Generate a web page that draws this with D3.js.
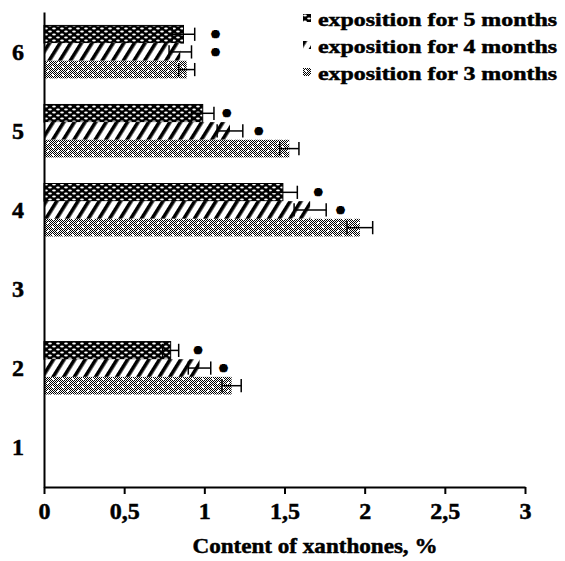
<!DOCTYPE html>
<html lang="en">
<head>
<meta charset="UTF-8">
<script src="https://cdnjs.cloudflare.com/ajax/libs/d3/7.8.5/d3.min.js"></script>
<style>
  body { margin: 0; background: #fff; }
  text { font-family: "Liberation Serif", "Times New Roman", serif; font-weight: bold; fill: #000; stroke: #000; stroke-width: 0.5px; }
</style>
</head>
<body>
<script>
// categories along the y axis (bottom to top)
var categories = ["1", "2", "3", "4", "5", "6"];
var seriesNames = ["exposition for 5 months", "exposition for 4 months", "exposition for 3 months"];

// bar values per category (null = no bar)
var values5 = [null, 0.79, null, 1.49, 0.99, 0.87];
var values4 = [null, 0.97, null, 1.66, 1.16, 0.85];
var values3 = [null, 1.17, null, 1.97, 1.53, 0.89];

// error bars
var err5 = [null, 0.05, null, 0.09, 0.07, 0.07];
var err4 = [null, 0.07, null, 0.10, 0.08, 0.07];
var err3 = [null, 0.06, null, 0.08, 0.06, 0.05];

// where the significance marks sit (x value)
var star5 = [null, 0.96, null, 1.71, 1.14, 1.07];
var star4 = [null, 1.12, null, 1.85, 1.34, 1.07];

var xTicks = [0, 0.5, 1, 1.5, 2, 2.5, 3];
var xTitle = "Content of xanthones, %";

var width = 565, height = 561;
var mLeft = 44, mRight = 525, mTop = 12, mBottom = 487;

var svg = d3.select("body").append("svg")
    .attr("width", width)
    .attr("height", height);

var defs = svg.append("defs");

// 5 months: black with white little ovals
var p5 = defs.append("pattern").attr("id", "pat5")
    .attr("patternUnits", "userSpaceOnUse").attr("width", 8).attr("height", 6);
p5.append("rect").attr("width", 8).attr("height", 6).attr("fill", "#000");
p5.append("ellipse").attr("cx", 2).attr("cy", 1.5).attr("rx", 1.9).attr("ry", 1.1).attr("fill", "#fff");
p5.append("ellipse").attr("cx", 6).attr("cy", 4.5).attr("rx", 1.9).attr("ry", 1.1).attr("fill", "#fff");

// 4 months: diagonal stripes
var p4 = defs.append("pattern").attr("id", "pat4")
    .attr("patternUnits", "userSpaceOnUse").attr("width", 9).attr("height", 9)
    .attr("patternTransform", "rotate(32)");
p4.append("rect").attr("width", 9).attr("height", 9).attr("fill", "#fff");
p4.append("rect").attr("width", 3.6).attr("height", 9).attr("fill", "#000");

// 3 months: dithered grey with white dots
var p3 = defs.append("pattern").attr("id", "pat3")
    .attr("patternUnits", "userSpaceOnUse").attr("width", 10).attr("height", 8);
p3.append("rect").attr("width", 10).attr("height", 8).attr("fill", "#fff");
for (var i = 0; i < 10; i++) {
    for (var j = 0; j < 8; j++) {
        if ((i + j) % 2 == 0) {
            p3.append("rect").attr("x", i).attr("y", j).attr("width", 1).attr("height", 1)
                .attr("fill", "#000").attr("shape-rendering", "crispEdges");
        }
    }
}
p3.append("rect").attr("x", 2).attr("y", 2).attr("width", 2).attr("height", 2).attr("fill", "#fff");
p3.append("rect").attr("x", 7).attr("y", 6).attr("width", 2).attr("height", 2).attr("fill", "#fff");

var fills = ["url(#pat5)", "url(#pat4)", "url(#pat3)"];
var valueSets = [values5, values4, values3];
var errSets = [err5, err4, err3];
var starSets = [star5, star4, null];

var x = d3.scaleLinear().domain([0, 3]).range([mLeft, mRight]);

var y = d3.scaleBand()
    .domain(categories)
    .range([mBottom, mTop])
    .paddingInner(0.33)
    .paddingOuter(0.17);

var ySub = d3.scaleBand()
    .domain(seriesNames)
    .range([0, y.bandwidth()]);

// flatten into bar records
var bars = [];
categories.forEach(function(c, ci) {
    seriesNames.forEach(function(s, si) {
        var v = valueSets[si][ci];
        if (v != null) {
            bars.push({
                cat: c, series: s, idx: si, value: v,
                err: errSets[si][ci],
                star: starSets[si] ? starSets[si][ci] : null
            });
        }
    });
});

var g = svg.append("g");

g.selectAll(".bar").data(bars).enter().append("rect")
    .attr("class", "bar")
    .attr("x", x(0))
    .attr("y", d => y(d.cat) + ySub(d.series))
    .attr("width", d => x(d.value) - x(0))
    .attr("height", ySub.bandwidth())
    .attr("fill", d => fills[d.idx])
    .attr("stroke", d => d.idx == 0 ? "#000" : "none")
    .attr("stroke-width", 1);

// error bars
var capH = ySub.bandwidth() * 0.75;
var midY = d => y(d.cat) + ySub(d.series) + ySub.bandwidth() / 2;

g.selectAll(".err").data(bars).enter().append("line")
    .attr("class", "err")
    .attr("x1", d => x(d.value - d.err))
    .attr("x2", d => x(d.value + d.err))
    .attr("y1", midY)
    .attr("y2", midY)
    .attr("stroke", "#000").attr("stroke-width", 1.5);

g.selectAll(".capR").data(bars).enter().append("line")
    .attr("class", "capR")
    .attr("x1", d => x(d.value + d.err))
    .attr("x2", d => x(d.value + d.err))
    .attr("y1", d => midY(d) - capH / 2)
    .attr("y2", d => midY(d) + capH / 2)
    .attr("stroke", "#000").attr("stroke-width", 1.5);

g.selectAll(".capL").data(bars).enter().append("line")
    .attr("class", "capL")
    .attr("x1", d => x(d.value - d.err))
    .attr("x2", d => x(d.value - d.err))
    .attr("y1", d => midY(d) - capH / 2)
    .attr("y2", d => midY(d) + capH / 2)
    .attr("stroke", "#000").attr("stroke-width", 1.5);

// significance marks
g.selectAll(".star").data(bars.filter(d => d.star != null)).enter().append("text")
    .attr("class", "star")
    .attr("x", d => x(d.star))
    .attr("y", d => midY(d) + 8)
    .attr("text-anchor", "middle")
    .attr("font-size", "16px")
    .style("stroke-width", "1.8px")
    .text("*");

// axes
var xAxis = d3.axisBottom(x)
    .tickValues(xTicks)
    .tickSize(7)
    .tickSizeOuter(0)
    .tickPadding(8)
    .tickFormat(d => String(d).replace(".", ","));

var gx = svg.append("g")
    .attr("transform", "translate(0," + mBottom + ")")
    .call(xAxis);
gx.select(".domain").attr("stroke", "#000").attr("stroke-width", 2);
gx.selectAll(".tick line").attr("stroke", "#000").attr("stroke-width", 2);
gx.selectAll(".tick text")
    .attr("font-family", "Liberation Serif")
    .attr("font-weight", "bold")
    .attr("font-size", "24px")
    .attr("fill", "#000");

var yAxis = d3.axisLeft(y).tickSize(0).tickPadding(20);
var gy = svg.append("g")
    .attr("transform", "translate(" + mLeft + ",0)")
    .call(yAxis);
gy.select(".domain").attr("stroke", "#000").attr("stroke-width", 2);
gy.selectAll(".tick text")
    .attr("font-family", "Liberation Serif")
    .attr("font-weight", "bold")
    .attr("font-size", "24px")
    .attr("fill", "#000");

// x axis title
svg.append("text")
    .attr("x", 315)
    .attr("y", 553)
    .attr("text-anchor", "middle")
    .attr("font-size", "22px")
    .attr("textLength", 245)
    .attr("lengthAdjust", "spacingAndGlyphs")
    .text(xTitle);

// legend
var legend = svg.append("g").attr("transform", "translate(303,0)");
var leg = legend.selectAll(".leg").data(seriesNames).enter().append("g")
    .attr("class", "leg")
    .attr("transform", (d, i) => "translate(0," + (14 + i * 27) + ")");
leg.append("rect")
    .attr("width", 8).attr("height", 8)
    .attr("fill", (d, i) => fills[i]);
leg.append("text")
    .attr("x", 15)
    .attr("y", 12)
    .attr("font-size", "19px")
    .attr("textLength", 239)
    .attr("lengthAdjust", "spacingAndGlyphs")
    .text(d => d);
</script>
</body>
</html>
